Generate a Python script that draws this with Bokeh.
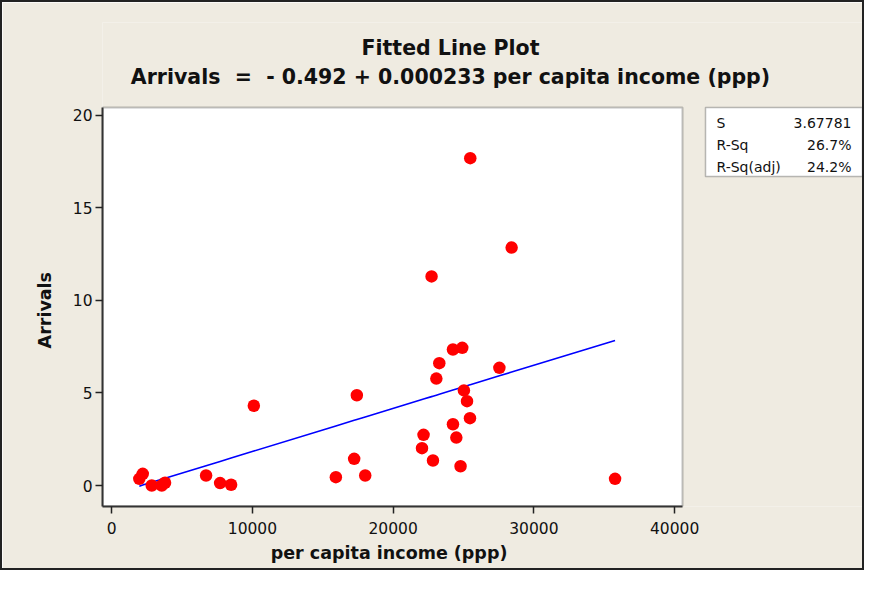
from bokeh.plotting import figure
from bokeh.models import Range1d, FixedTicker, ColumnDataSource, BoxAnnotation
from bokeh.core.properties import value
from bokeh.embed import file_html
from bokeh.resources import INLINE

# ---- data ----
income = [1963, 2205, 2845, 3556, 3790, 6707, 7703, 8485, 10100, 15930, 17230,
          17420, 18015, 22730, 25480, 28420, 24250, 24910, 23280, 27550, 23070,
          25030, 25250, 25460, 24250, 24490, 22160, 22050, 22830, 24790, 35770]
arrivals = [0.36, 0.63, 0.0, 0.0, 0.15, 0.54, 0.13, 0.04, 4.31, 0.45, 1.44,
            4.88, 0.54, 11.3, 17.69, 12.86, 7.35, 7.44, 6.61, 6.36, 5.78,
            5.14, 4.56, 3.64, 3.31, 2.59, 2.74, 2.02, 1.35, 1.04, 0.36]
intercept = -0.492
slope = 0.000233
x_ticks = [0, 10000, 20000, 30000, 40000]
y_ticks = [0, 5, 10, 15, 20]
stat_names = ["S", "R-Sq", "R-Sq(adj)"]
stat_values = ["3.67781", "26.7%", "24.2%"]
NB = "\u00a0"
titles = ["Fitted Line Plot",
          "Arrivals" + NB * 2 + "=" + NB * 2 + "- 0.492 + 0.000233 per capita income (ppp)"]
x_label = "per capita income (ppp)"
y_label = "Arrivals"

fit_x = sorted(income)
fit_y = [intercept + slope * v for v in fit_x]

BEIGE = "#EFEBE1"
DARK = "#222222"
FONT = "DejaVu Sans"

# canvas / plot-area geometry (pixels)
W, H = 864, 570
FL, FT, FR, FB = 100, 20, 862, 504          # frame edges
AREA_R, AREA_T = 680, 105                   # plot area right / top edges
XA0, XA1 = -654, 40562                      # x data limits of the plot area
YA0, YA1 = -1.135, 20.43                    # y data limits of the plot area
ux = (XA1 - XA0) / (AREA_R - FL)
uy = (YA1 - YA0) / (FB - AREA_T)


def dx(px):
    return XA0 + (px - FL) * ux


def dy(py):
    return YA1 - (py - AREA_T) * uy


p = figure(width=W, height=H, output_backend="svg", toolbar_location=None,
           x_range=Range1d(XA0, dx(FR)), y_range=Range1d(YA0, dy(FT)),
           min_border_left=FL, min_border_right=W - FR, min_border_top=FT,
           min_border_bottom=H - FB,
           styles={"border": "2px solid #222222"})
p.border_fill_color = BEIGE
p.background_fill_color = BEIGE
p.outline_line_color = None
p.grid.visible = False

# white plot area with top/right frame lines
p.add_layout(BoxAnnotation(left=XA0, right=XA1, bottom=YA0, top=YA1,
                           fill_color="white", fill_alpha=1.0,
                           line_color="#333333", line_width=2, level="underlay"))

p.line(fit_x, fit_y, line_color="#0000FF", line_width=1.6)
p.scatter(income, arrivals, size=12.5, fill_color="#FF0000", line_color=None)

for ax in (p.xaxis[0], p.yaxis[0]):
    ax.axis_line_color = "#333333"
    ax.axis_line_width = 2
    ax.major_tick_line_color = DARK
    ax.major_tick_line_width = 1.5
    ax.major_tick_in = 0
    ax.major_tick_out = 7
    ax.minor_tick_line_color = None
    ax.major_label_text_font = FONT
    ax.major_label_text_font_size = "15.5px"
    ax.major_label_text_color = "#111111"
    ax.axis_label_text_font = FONT
    ax.axis_label_text_font_size = "17.5px"
    ax.axis_label_text_font_style = "bold"
    ax.axis_label_text_color = "#111111"

p.xaxis.ticker = FixedTicker(ticks=x_ticks)
p.yaxis.ticker = FixedTicker(ticks=y_ticks)
p.xaxis.bounds = (XA0, XA1)
p.yaxis.bounds = (YA0, YA1)
# trailing no-break spaces keep the labels centred on the plot area, not the wider frame
p.xaxis.axis_label = x_label + NB * 31
p.yaxis.axis_label = y_label + NB * 15
p.xaxis.major_label_standoff = 8
p.yaxis.major_label_standoff = 3
p.xaxis.axis_label_standoff = 6
p.yaxis.axis_label_standoff = 15

# titles
tsrc = ColumnDataSource(dict(t=titles, x=[dx(448)] * 2, y=[dy(45), dy(74)]))
p.text(x="x", y="y", text="t", source=tsrc, text_align="center", text_baseline="middle",
       text_font=value(FONT), text_font_size="20.5px", text_font_style="bold",
       text_color="#111111")

# statistics box
BL, BT, BR, BB = 703, 105, 860, 174
p.add_layout(BoxAnnotation(left=dx(BL), right=dx(BR), top=dy(BT), bottom=dy(BB),
                           fill_color="white", fill_alpha=1.0, line_color=DARK,
                           line_width=1.5, level="underlay"))
row_py = [120.7, 142.3, 164.0]
ssrc = ColumnDataSource(dict(n=stat_names, v=stat_values, y=[dy(v) for v in row_py],
                             xl=[dx(BL + 11)] * 3, xr=[dx(BR - 11)] * 3))
p.text(x="xl", y="y", text="n", source=ssrc, text_align="left", text_baseline="middle",
       text_font=value(FONT), text_font_size="14px", text_color="#111111")
p.text(x="xr", y="y", text="v", source=ssrc, text_align="right", text_baseline="middle",
       text_font=value(FONT), text_font_size="14px", text_color="#111111")

open("out.html", "w").write(file_html(p, INLINE))
